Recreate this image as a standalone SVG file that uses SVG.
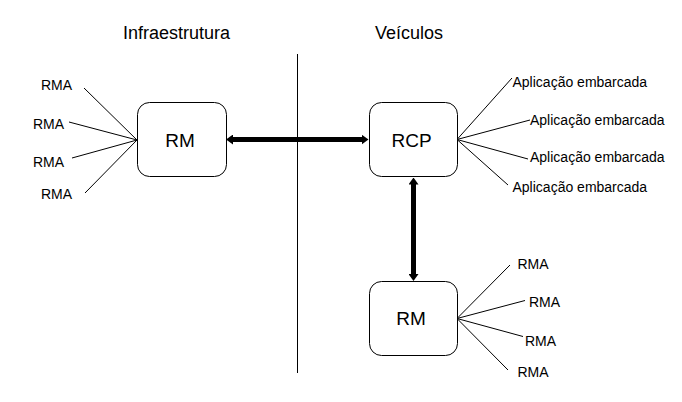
<svg xmlns="http://www.w3.org/2000/svg" width="682" height="402" viewBox="0 0 682 402">
  <style>
    text { font-family: "Liberation Sans", Arial, sans-serif; fill: #000; }
    .hdr { font-size: 18px; }
    .lbl { font-size: 14px; }
    .box { fill: #fff; stroke: #000; stroke-width: 1; }
    .boxt { font-size: 19px; text-anchor: middle; }
    .thin { stroke: #000; stroke-width: 1; fill: none; }
    .thick { stroke: #000; stroke-width: 5; fill: none; marker-start: url(#ah); marker-end: url(#ah); }
  </style>
  <defs>
    <marker id="ah" markerUnits="userSpaceOnUse" viewBox="0 0 7 10" markerWidth="7" markerHeight="10" refX="0.5" refY="5" orient="auto-start-reverse">
      <path d="M0,0 L7,5 L0,10 z" fill="#000"/>
    </marker>
  </defs>
  <rect width="682" height="402" fill="#fff"/>

  <g id="headers">
    <text class="hdr" x="123" y="39">Infraestrutura</text>
    <text class="hdr" x="375" y="39">Veículos</text>
  </g>

  <g id="divider">
    <line class="thin" x1="297.5" y1="54" x2="297.5" y2="373"/>
  </g>

  <g id="connectors">
    <line class="thick" x1="232.5" y1="139.5" x2="362" y2="139.5"/>
    <line class="thick" x1="413.5" y1="184" x2="413.5" y2="274.5"/>
    <g id="fan-left">
      <line class="thin" x1="137" y1="140" x2="84" y2="88"/>
      <line class="thin" x1="137" y1="140" x2="69" y2="122"/>
      <line class="thin" x1="137" y1="140" x2="72" y2="158"/>
      <line class="thin" x1="137" y1="140" x2="85" y2="193"/>
    </g>
    <g id="fan-rcp">
      <line class="thin" x1="457" y1="139.5" x2="512" y2="78"/>
      <line class="thin" x1="457" y1="139.5" x2="530" y2="120"/>
      <line class="thin" x1="457" y1="139.5" x2="528" y2="159"/>
      <line class="thin" x1="457" y1="139.5" x2="508" y2="185"/>
    </g>
    <g id="fan-rm2">
      <line class="thin" x1="457" y1="318.5" x2="510" y2="265"/>
      <line class="thin" x1="457" y1="318.5" x2="525" y2="300.5"/>
      <line class="thin" x1="457" y1="318.5" x2="523" y2="336.5"/>
      <line class="thin" x1="457" y1="318.5" x2="508" y2="370"/>
    </g>
  </g>

  <g id="rm-infra">
    <rect class="box" x="137.5" y="102.5" width="89" height="74" rx="12" ry="12"/>
    <text class="boxt" x="180" y="147">RM</text>
  </g>

  <g id="rcp">
    <rect class="box" x="369.5" y="102.5" width="88" height="74" rx="12" ry="12"/>
    <text class="boxt" x="411.5" y="147">RCP</text>
  </g>

  <g id="rm-veic">
    <rect class="box" x="369.5" y="281.5" width="88" height="74" rx="12" ry="12"/>
    <text class="boxt" x="411" y="325">RM</text>
  </g>

  <g id="rma-left">
    <text class="lbl" x="41" y="90">RMA</text>
    <text class="lbl" x="33" y="128.5">RMA</text>
    <text class="lbl" x="33" y="167">RMA</text>
    <text class="lbl" x="41" y="198.5">RMA</text>
  </g>

  <g id="apps">
    <text class="lbl" x="512.5" y="86.5">Aplicação embarcada</text>
    <text class="lbl" x="530" y="125">Aplicação embarcada</text>
    <text class="lbl" x="530" y="161.5">Aplicação embarcada</text>
    <text class="lbl" x="512.5" y="191.5">Aplicação embarcada</text>
  </g>

  <g id="rma-right">
    <text class="lbl" x="517.5" y="269">RMA</text>
    <text class="lbl" x="529" y="306.5">RMA</text>
    <text class="lbl" x="525" y="345.5">RMA</text>
    <text class="lbl" x="517.5" y="377">RMA</text>
  </g>
</svg>
